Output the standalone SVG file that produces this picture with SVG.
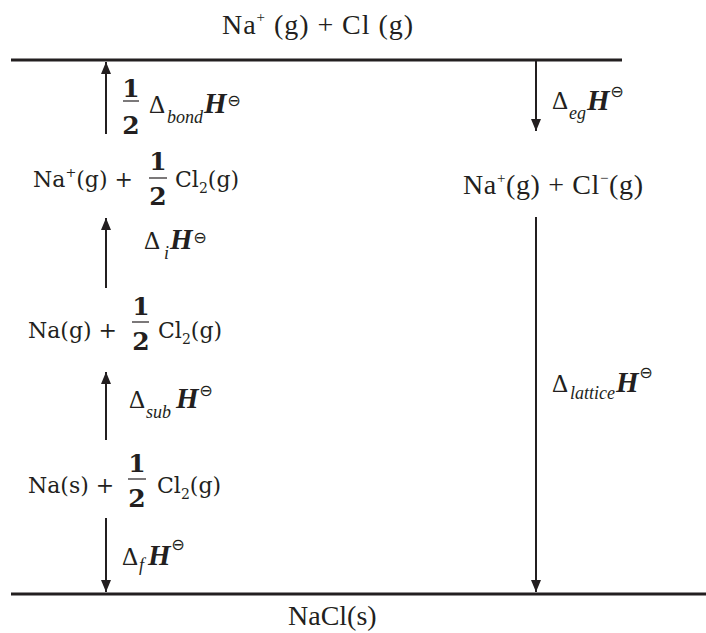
<svg xmlns="http://www.w3.org/2000/svg" width="706" height="633" viewBox="0 0 706 633">
<style>
.lvl{fill:none;stroke:#231f20;stroke-width:3}
.arr{fill:none;stroke:#231f20;stroke-width:2}
.bar{stroke:#231f20;stroke-width:1.2}
.t{font-family:"Liberation Serif","Times New Roman",serif;font-size:28px;fill:#231f20}
.b{font-family:"DejaVu Serif",serif;font-size:22px;fill:#231f20}
.fr{font-family:"DejaVu Serif",serif;font-size:25px;font-weight:bold;fill:#231f20;text-anchor:middle}
.d{font-family:"Liberation Serif","Times New Roman",serif;font-size:25px;fill:#231f20}
.s{font-family:"Liberation Serif","Times New Roman",serif;font-size:18px;font-style:italic;fill:#231f20}
.h{font-family:"Liberation Serif","Times New Roman",serif;font-size:29px;font-style:italic;font-weight:bold;fill:#231f20}
.p{font-family:"DejaVu Sans",sans-serif;font-size:16px;fill:#231f20;text-anchor:middle}
</style>
<defs>
<marker id="ah" markerUnits="userSpaceOnUse" markerWidth="12" markerHeight="10" refX="12" refY="5" orient="auto">
<path d="M0,0 L12,5 L0,10 z" fill="#231f20"/>
</marker>
</defs>
<rect width="706" height="633" fill="#ffffff"/>

<g id="levels">
<line class="lvl" x1="11" y1="60" x2="622" y2="60"/>
<line class="lvl" x1="11" y1="594" x2="706" y2="594"/>
</g>

<g id="connectors">
<line class="arr" x1="106" y1="134" x2="106" y2="62" marker-end="url(#ah)"/>
<line class="arr" x1="106" y1="288" x2="106" y2="218" marker-end="url(#ah)"/>
<line class="arr" x1="106" y1="440" x2="106" y2="372" marker-end="url(#ah)"/>
<line class="arr" x1="106" y1="518" x2="106" y2="592" marker-end="url(#ah)"/>
<line class="arr" x1="536" y1="61" x2="536" y2="131" marker-end="url(#ah)"/>
<line class="arr" x1="536" y1="217" x2="536" y2="592" marker-end="url(#ah)"/>
</g>

<g id="top">
<text class="t" x="222" y="34" textLength="191" lengthAdjust="spacing">Na<tspan font-size="15" dy="-12">+</tspan><tspan dy="12"> (g) + Cl (g)</tspan></text>
</g>

<g id="bottom">
<text class="t" x="288" y="625">NaCl(s)</text>
</g>

<g id="ions-right">
<text class="t" x="463" y="194" textLength="180" lengthAdjust="spacing">Na<tspan font-size="15" dy="-11">+</tspan><tspan dy="11">(g) + Cl</tspan><tspan font-size="15" dy="-11">−</tspan><tspan dy="11">(g)</tspan></text>
</g>

<g id="row1">
<text class="b" x="33" y="187">Na<tspan font-size="13" dy="-10">+</tspan><tspan dy="10">(g) +</tspan></text>
<text class="fr" x="158" y="170">1</text>
<line class="bar" x1="149" y1="178" x2="167" y2="178"/>
<text class="fr" x="158" y="205">2</text>
<text class="b" x="175" y="187">Cl<tspan font-size="14" dy="6">2</tspan><tspan dy="-6">(g)</tspan></text>
</g>

<g id="row2">
<text class="b" x="28" y="338">Na(g) +</text>
<text class="fr" x="141" y="315">1</text>
<line class="bar" x1="132" y1="322" x2="149" y2="322"/>
<text class="fr" x="141" y="350">2</text>
<text class="b" x="158" y="338">Cl<tspan font-size="14" dy="6">2</tspan><tspan dy="-6">(g)</tspan></text>
</g>

<g id="row3">
<text class="b" x="28" y="493">Na(s) +</text>
<text class="fr" x="137" y="472">1</text>
<line class="bar" x1="128" y1="479" x2="146" y2="479"/>
<text class="fr" x="137" y="507">2</text>
<text class="b" x="157" y="493">Cl<tspan font-size="14" dy="6">2</tspan><tspan dy="-6">(g)</tspan></text>
</g>

<g id="label-bond">
<text class="fr" x="131" y="97">1</text>
<line class="bar" x1="123" y1="101" x2="139" y2="101"/>
<text class="fr" x="131" y="134">2</text>
<text class="d" x="149" y="113">Δ</text>
<text class="s" x="167" y="123">bond</text>
<text class="h" x="204" y="113">H</text>
<text class="p" x="234" y="106">⊖</text>
</g>

<g id="label-i">
<text class="d" x="144" y="249">Δ</text>
<text class="s" x="164" y="259">i</text>
<text class="h" x="170" y="249">H</text>
<text class="p" x="200" y="243">⊖</text>
</g>

<g id="label-sub">
<text class="d" x="129" y="408">Δ</text>
<text class="s" x="146" y="418">sub</text>
<text class="h" x="176" y="408">H</text>
<text class="p" x="206" y="396">⊖</text>
</g>

<g id="label-f">
<text class="d" x="122" y="565">Δ</text>
<text class="s" x="139" y="571">f</text>
<text class="h" x="148" y="565">H</text>
<text class="p" x="178" y="550">⊖</text>
</g>

<g id="label-eg">
<text class="d" x="552" y="109">Δ</text>
<text class="s" x="569" y="119">eg</text>
<text class="h" x="587" y="110">H</text>
<text class="p" x="617" y="97">⊖</text>
</g>

<g id="label-lattice">
<text class="d" x="552" y="392">Δ</text>
<text class="s" x="570" y="399">lattice</text>
<text class="h" x="616" y="392">H</text>
<text class="p" x="646" y="378">⊖</text>
</g>
</svg>
